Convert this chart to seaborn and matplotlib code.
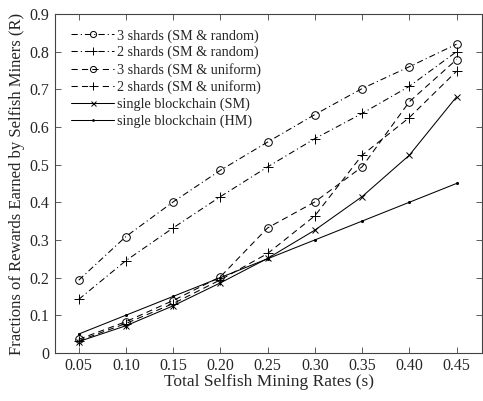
import matplotlib
matplotlib.use("Agg")
import matplotlib.pyplot as plt
import seaborn as sns
import pandas as pd

sns.set_theme(style="white")
plt.rcParams['font.family'] = ['Liberation Serif', 'DejaVu Serif']
plt.rcParams['lines.scale_dashes'] = False

rates = [0.05, 0.10, 0.15, 0.20, 0.25, 0.30, 0.35, 0.40, 0.45]
shard3_random = [0.193, 0.309, 0.401, 0.485, 0.560, 0.633, 0.702, 0.760, 0.820]
shard2_random = [0.142, 0.245, 0.332, 0.415, 0.494, 0.569, 0.636, 0.708, 0.800]
shard3_uniform = [0.036, 0.083, 0.139, 0.202, 0.332, 0.401, 0.494, 0.667, 0.779]
shard2_uniform = [0.032, 0.078, 0.131, 0.194, 0.264, 0.364, 0.525, 0.625, 0.748]
single_sm = [0.030, 0.072, 0.125, 0.186, 0.251, 0.326, 0.415, 0.525, 0.680]
single_hm = [0.050, 0.100, 0.150, 0.200, 0.250, 0.300, 0.350, 0.400, 0.450]

labels = ["3 shards (SM & random)", "2 shards (SM & random)",
          "3 shards (SM & uniform)", "2 shards (SM & uniform)",
          "single blockchain (SM)", "single blockchain (HM)"]
series = [shard3_random, shard2_random, shard3_uniform, shard2_uniform, single_sm, single_hm]
dashdot = (0, (4.5, 2.2, 0.8, 2.2))
dashed = (0, (4.5, 3.0))
styles = [(dashdot, "o", 5.5), (dashdot, "+", 6.5), (dashed, "o", 5.5), (dashed, "+", 6.5),
          ("-", "x", 4.5), ("-", ".", 3)]

fig = plt.figure(figsize=(4.83, 4.01), dpi=100)
ax = fig.add_axes([0.114, 0.12, 0.884, 0.845])

for lab, vals, (ls, mk, ms) in zip(labels, series, styles):
    df = pd.DataFrame({"x": rates, "y": vals})
    sns.lineplot(data=df, x="x", y="y", ax=ax, color="black", linestyle=ls,
                 marker=mk, markersize=ms, markerfacecolor="none" if mk == "o" else "black",
                 markeredgecolor="black", markeredgewidth=0.7, linewidth=0.75, label=lab)

ax.set_xlim(0.025, 0.477)
ax.set_ylim(0, 0.9)
ax.set_xticks(rates)
ax.set_xticklabels([f"{r:.2f}" for r in rates])
ax.set_yticks([0, 0.1, 0.2, 0.3, 0.4, 0.5, 0.6, 0.7, 0.8, 0.9])
ax.set_yticklabels(["0", "0.1", "0.2", "0.3", "0.4", "0.5", "0.6", "0.7", "0.8", "0.9"])
ax.tick_params(direction="in", top=True, right=True, bottom=True, left=True,
               length=4, width=0.6, color="#444444", labelsize=11.5, pad=4)
for s in ax.spines.values():
    s.set_color("#444444")
    s.set_linewidth(0.8)
ax.set_xlabel("Total Selfish Mining Rates (s)", fontsize=12.5, labelpad=0)
ax.set_ylabel("Fractions of Rewards Earned by Selfish Miners (R)", fontsize=12, labelpad=3)
leg = ax.legend(loc="upper left", frameon=False, fontsize=10.2, handlelength=3.0,
                labelspacing=0.245, handletextpad=0.25, borderaxespad=0.3,
                markerscale=0.8, bbox_to_anchor=(0.015, 0.985))
fig.savefig("out.png", dpi=100)
